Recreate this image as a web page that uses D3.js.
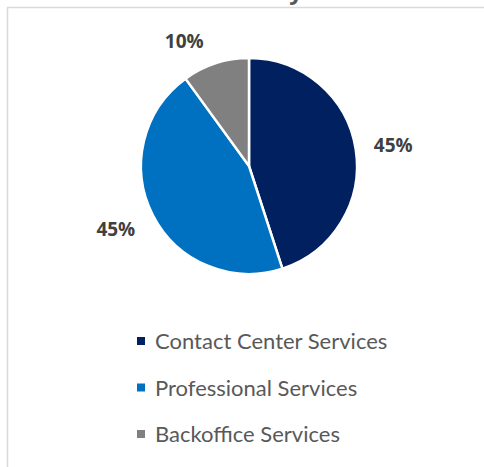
<!DOCTYPE html>
<html lang="en">
  <head>
    <meta charset="UTF-8" />
    <title>Revenue by Service</title>
    <style>
      body { margin: 0; background: #fff; }
      svg { display: block; }
    </style>
  </head>
  <script src="https://d3js.org/d3.v7.min.js"></script>
  <body>
    <div id="chart"></div>
  </body>
  <script>
    // data
    const categories = ["Contact Center Services", "Professional Services", "Backoffice Services"];
    const shares = [45, 45, 10];
    const colors = ["#002060", "#0070C0", "#808080"];

    const width = 484, height = 467;
    const cx = 249, cy = 166, radius = 108;

    const svg = d3
      .select("#chart")
      .append("svg")
      .attr("width", width)
      .attr("height", height);

    // clipped title (only the descender of the last letter shows above the frame)
    svg
      .append("text")
      .attr("x", 303)
      .attr("y", -1)
      .attr("text-anchor", "end")
      .style("font-family", "'Open Sans', sans-serif")
      .style("font-weight", "bold")
      .style("font-size", "24px")
      .style("fill", "#595959")
      .text("Revenue Summary");

    // chart frame
    svg
      .append("path")
      .attr("d", `M7.5,${height} V7.5 H${width}`)
      .style("fill", "none")
      .style("stroke", "#d9d9d9")
      .style("stroke-width", 1.5);

    const color = d3.scaleOrdinal().domain(categories).range(colors);

    const pie = d3.pie().sort(null).value((d, i) => shares[i]);
    const arcs = pie(categories);

    const arc = d3.arc().innerRadius(0).outerRadius(radius);
    const labelArc = d3.arc().innerRadius(145).outerRadius(145);

    const g = svg.append("g").attr("transform", `translate(${cx},${cy})`);

    g.selectAll("path.slice")
      .data(arcs)
      .join("path")
      .attr("class", "slice")
      .attr("d", arc)
      .style("fill", (d) => color(d.data))
      .style("stroke", "#fff")
      .style("stroke-width", 2.5);

    // excel "best fit" nudges for the labels
    const nudge = [[1, 9], [-4, 4], [-20, 20]];
    g.selectAll("text.label")
      .data(arcs)
      .join("text")
      .attr("class", "label")
      .attr("transform", (d, i) => {
        const c = labelArc.centroid(d);
        return `translate(${c[0] + nudge[i][0]},${c[1] + nudge[i][1]})`;
      })
      .attr("text-anchor", "middle")
      .style("font-family", "'Open Sans', sans-serif")
      .style("font-weight", "bold")
      .style("font-size", "19px")
      .style("fill", "#404040")
      .text((d) => d.value + "%");

    // legend
    const legend = svg
      .selectAll("g.legend")
      .data(categories)
      .join("g")
      .attr("class", "legend")
      .attr("transform", (d, i) => `translate(137,${349 + i * 46.5})`);

    legend
      .append("rect")
      .attr("x", 0)
      .attr("y", -12)
      .attr("width", 8)
      .attr("height", 8)
      .style("fill", (d) => color(d));

    legend
      .append("text")
      .attr("x", 18)
      .attr("y", 0)
      .style("font-family", "Lato, sans-serif")
      .style("font-size", "22px")
      .style("fill", "#595959")
      .text((d) => d);
  </script>
</html>
